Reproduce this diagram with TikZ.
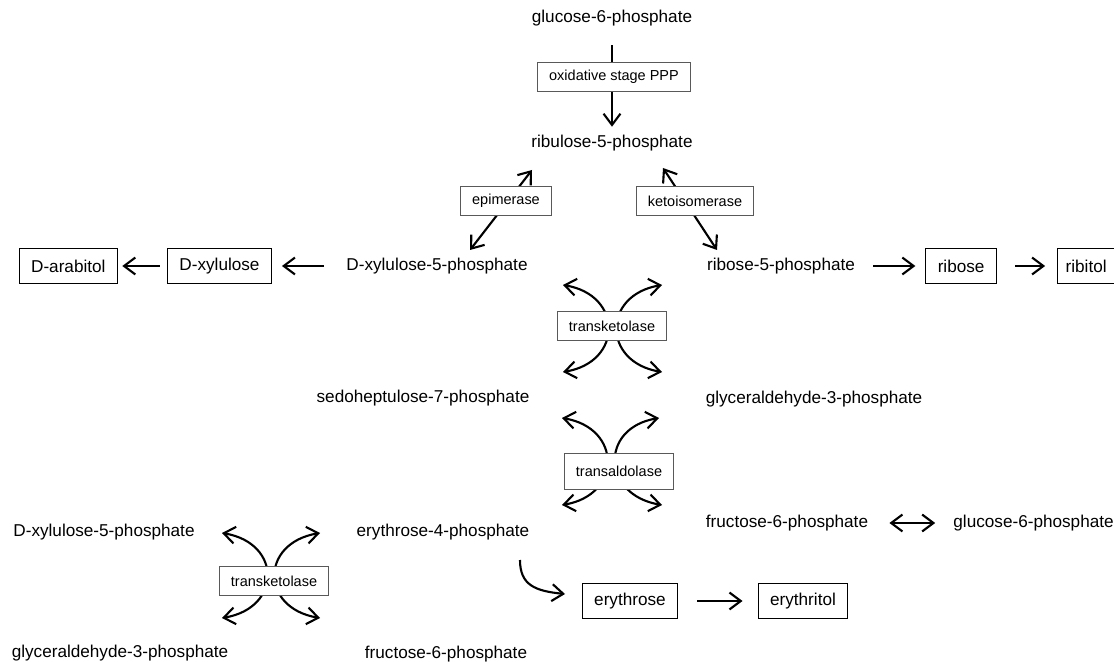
\documentclass[tikz,border=0pt]{standalone}
\usepackage{fontspec}
\setmainfont{Liberation Sans}
\usetikzlibrary{positioning}
\usetikzlibrary{arrows.meta}
\usetikzlibrary{backgrounds}

\begin{document}
\begin{tikzpicture}[x=0.025cm, y=-0.025cm,
	met/.style={inner sep=0pt, font=\fontsize{12.2}{14}\selectfont},
	prod/.style={rectangle, draw=black, line width=0.8pt, fill=white, inner xsep=0.3cm, minimum height=0.87cm, font=\fontsize{12.2}{14}\selectfont},
	enz/.style={rectangle, draw=black!65, line width=0.6pt, fill=white, inner xsep=0.29cm, minimum height=0.72cm, font=\fontsize{10.3}{12}\selectfont},
	arr/.style={line width=1.5pt, -{Straight Barb[length=8pt,width=12pt]}},
	arrb/.style={line width=1.5pt, {Straight Barb[length=8pt,width=12pt]}-{Straight Barb[length=8pt,width=12pt]}}]
	\useasboundingbox (0,0) rectangle (1114,662);

	% oxidative part
	\node[met] (g6p) at (612,18) {glucose-6-phosphate};
	\node[enz] (oxi) at (614,77) {oxidative stage PPP};
	\node[met] (ru5p) at (612,143) {ribulose-5-phosphate};
	\node[enz] (epi) at (506,201) {epimerase};
	\node[enz] (keto) at (695,201) {ketoisomerase};

	% pentose row
	\node[met] (xu5p) at (437,266) {D-xylulose-5-phosphate};
	\node[prod] (xyl) [left=1.85cm of xu5p] {D-xylulose};
	\node[prod] (arab) [left=1.22cm of xyl] {D-arabitol};
	\node[met] (r5p) at (781,266) {ribose-5-phosphate};
	\node[prod] (rib) [right=1.75cm of r5p] {ribose};
	\node[prod, inner xsep=0.2cm] (rbt) [right=1.5cm of rib] {ribitol};

	% non-oxidative part
	\node[enz] (tk1) at (612,326) {transketolase};
	\node[met] (s7p) at (423,398) {sedoheptulose-7-phosphate};
	\node[met] (ga3p) at (814,399) {glyceraldehyde-3-phosphate};
	\node[enz, minimum height=0.9cm] (ta) at (619,471) {transaldolase};
	\node[met] (f6p) at (787,523) {fructose-6-phosphate};
	\node[met] (g6pb) [right=2.12cm of f6p] {glucose-6-phosphate};
	\node[met] (e4p) at (443,532) {erythrose-4-phosphate};
	\node[met] (xu5pb) at (104,532) {D-xylulose-5-phosphate};
	\node[enz] (tk2) at (274,581) {transketolase};
	\node[met] (ga3pb) at (120,653) {glyceraldehyde-3-phosphate};
	\node[met] (f6pb) at (446,654) {fructose-6-phosphate};
	\node[prod] (ery) at (630,601) {erythrose};
	\node[prod] (eryt) [right=1.98cm of ery] {erythritol};

	% arrow ends
	\coordinate (epi-lo) at (470,250);
	\coordinate (epi-hi) at (532,170);
	\coordinate (keto-hi) at (663,168);
	\coordinate (keto-lo) at (717,250);
	\coordinate (tk1-ul) at (563,285);
	\coordinate (tk1-ll) at (563,372);
	\coordinate (tk1-ur) at (662,285);
	\coordinate (tk1-lr) at (662,372);
	\coordinate (ta-ul) at (562,418);
	\coordinate (ta-ll) at (562,505);
	\coordinate (ta-ur) at (659,418);
	\coordinate (ta-lr) at (662,505);
	\coordinate (tk2-ul) at (222,533);
	\coordinate (tk2-ll) at (222,618);
	\coordinate (tk2-ur) at (320,533);
	\coordinate (tk2-lr) at (320,618);
	\coordinate (e4p-out) at (520,560);
	\coordinate (ery-in) at (565,594);

	\begin{scope}[on background layer]
		\draw[arr, shorten <=13.5pt, shorten >=5.7pt] (g6p.south) -- (ru5p.north);
		\draw[arrb] (epi-lo) -- (epi-hi);
		\draw[arrb] (keto-hi) -- (keto-lo);
		\draw[arr, shorten <=15.6pt, shorten >=7pt] (xu5p.west) -- (xyl.east);
		\draw[arr, shorten <=5pt, shorten >=3pt] (xyl.west) -- (arab.east);
		\draw[arr, shorten <=12.8pt, shorten >=7pt] (r5p.east) -- (rib.west);
		\draw[arr, shorten <=12.8pt, shorten >=8.5pt] (rib.east) -- (rbt.west);
		\draw[arrb] (tk1-ul) .. controls +(60,10) and +(60,-10) .. (tk1-ll);
		\draw[arrb] (tk1-ur) .. controls +(-60,10) and +(-60,-10) .. (tk1-lr);
		\draw[arrb] (ta-ul) .. controls +(60,10) and +(60,-10) .. (ta-ll);
		\draw[arrb] (ta-ur) .. controls +(-60,10) and +(-60,-10) .. (ta-lr);
		\draw[arrb] (tk2-ul) .. controls +(60,10) and +(60,-10) .. (tk2-ll);
		\draw[arrb] (tk2-ur) .. controls +(-60,10) and +(-60,-10) .. (tk2-lr);
		\draw[arrb, shorten <=15pt, shorten >=12.8pt] (f6p.east) -- (g6pb.west);
		\draw[arr] (e4p-out) .. controls +(0,25) and +(-30,-3) .. (ery-in);
		\draw[arr, shorten <=13.5pt, shorten >=10.7pt] (ery.east) -- (eryt.west);
	\end{scope}
\end{tikzpicture}
\end{document}
